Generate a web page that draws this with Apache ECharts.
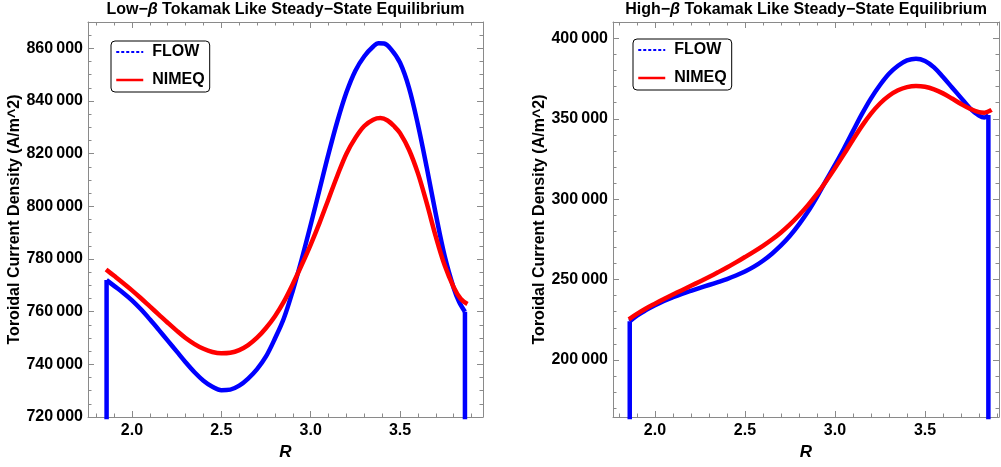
<!DOCTYPE html>
<html>
<head>
<meta charset="utf-8">
<script src="https://cdn.jsdelivr.net/npm/echarts@6/dist/echarts.min.js"></script>
<style>html,body{margin:0;padding:0;background:#fff;}#c{width:1001px;height:467px;}</style>
</head>
<body>
<div id="c"></div>
<script>
// ---- Data ----
const titles = ['Low\u2212{b|\u03b2} Tokamak Like Steady\u2212State Equilibrium',
                'High\u2212{b|\u03b2} Tokamak Like Steady\u2212State Equilibrium'];
const seriesNames = ['FLOW', 'NIMEQ'];
const yAxisName = 'Toroidal Current Density (A/m^2)';
const xAxisName = 'R';
const edgeFloor = 0; // FLOW drops to zero outside the plasma boundary

// Low-beta panel
const lowFlowR = [1.858, 1.90, 1.95, 2.00, 2.05, 2.10, 2.15, 2.20, 2.25, 2.30, 2.35, 2.40, 2.45, 2.50, 2.55, 2.60, 2.65, 2.70, 2.75, 2.80, 2.85, 2.90, 2.95, 3.00, 3.05, 3.10, 3.15, 3.20, 3.25, 3.30, 3.35, 3.38, 3.41, 3.45, 3.50, 3.55, 3.60, 3.65, 3.70, 3.75, 3.80, 3.83, 3.863];
const lowFlowJ = [772000, 769800, 767200, 764300, 760900, 757100, 753100, 749000, 744900, 740800, 737000, 733800, 731500, 730200, 730400, 731900, 734600, 738200, 743000, 749800, 757500, 768000, 780000, 793000, 806500, 820000, 832500, 843300, 851500, 857000, 860700, 861900, 861800, 859600, 854500, 845000, 831000, 814500, 797000, 781000, 769000, 763800, 760000];
const lowNimR = [1.855, 1.90, 1.95, 2.00, 2.05, 2.10, 2.15, 2.20, 2.25, 2.30, 2.35, 2.40, 2.45, 2.50, 2.55, 2.60, 2.65, 2.70, 2.75, 2.80, 2.85, 2.90, 2.95, 3.00, 3.05, 3.10, 3.15, 3.20, 3.25, 3.30, 3.35, 3.39, 3.43, 3.47, 3.50, 3.55, 3.60, 3.65, 3.70, 3.75, 3.80, 3.84, 3.877];
const lowNimJ = [776000, 773600, 770900, 768100, 765100, 762000, 758900, 755800, 752800, 750000, 747700, 745900, 744700, 744200, 744400, 745400, 747300, 750100, 753800, 758300, 763800, 770500, 777800, 785500, 793800, 802800, 811800, 820000, 826000, 830500, 832900, 833500, 832600, 830200, 827800, 821500, 812500, 801000, 788500, 777500, 769300, 764800, 762900];

// High-beta panel
const highFlowR = [1.86, 1.90, 1.95, 2.00, 2.05, 2.10, 2.15, 2.20, 2.25, 2.30, 2.35, 2.40, 2.45, 2.50, 2.55, 2.60, 2.65, 2.70, 2.75, 2.80, 2.85, 2.90, 2.95, 3.00, 3.05, 3.10, 3.15, 3.20, 3.25, 3.30, 3.35, 3.40, 3.45, 3.50, 3.55, 3.60, 3.65, 3.70, 3.75, 3.80, 3.83, 3.852];
const highFlowJ = [224000, 227600, 231000, 234000, 236700, 239000, 241100, 243000, 244800, 246600, 248400, 250300, 252500, 255000, 258000, 261700, 266100, 271200, 277200, 284300, 292300, 301500, 311500, 321300, 331500, 342300, 353000, 362700, 371000, 378000, 383000, 386300, 387400, 386000, 382000, 376000, 369500, 363000, 356500, 352000, 350800, 352400];
const highNimR = [1.855, 1.90, 1.95, 2.00, 2.05, 2.10, 2.15, 2.20, 2.25, 2.30, 2.35, 2.40, 2.45, 2.50, 2.55, 2.60, 2.65, 2.70, 2.75, 2.80, 2.85, 2.90, 2.95, 3.00, 3.05, 3.10, 3.15, 3.20, 3.25, 3.30, 3.35, 3.40, 3.45, 3.50, 3.55, 3.60, 3.65, 3.70, 3.75, 3.80, 3.83, 3.87];
const highNimJ = [225300, 228600, 232000, 235000, 237900, 240700, 243400, 246100, 248800, 251600, 254500, 257500, 260700, 264000, 267400, 271000, 274900, 279300, 284300, 290000, 296300, 303300, 311000, 319300, 328000, 337000, 345600, 353200, 359500, 364300, 367700, 369700, 370400, 369900, 368300, 365800, 362600, 359200, 356200, 354100, 353800, 355500];

// Tick labels / tick positions
const xMajorTicks = [2.0, 2.5, 3.0, 3.5];
const xMinorTicks = [1.8, 1.9, 2.1, 2.2, 2.3, 2.4, 2.6, 2.7, 2.8, 2.9, 3.1, 3.2, 3.3, 3.4, 3.6, 3.7, 3.8, 3.9];
const lowYMajorTicks = [720000, 740000, 760000, 780000, 800000, 820000, 840000, 860000];
const highYMajorTicks = [200000, 250000, 300000, 350000, 400000];
const lowYMinorTicks = [];
for (let v = 725000; v < 870000; v += 5000) if (v % 20000 !== 0) lowYMinorTicks.push(v);
const highYMinorTicks = [];
for (let v = 170000; v <= 410000; v += 10000) if (v % 50000 !== 0) highYMinorTicks.push(v);

// ---- Layout / styling ----
const FONT = '"Liberation Sans", Arial, sans-serif';
const FRAME = '#8a8a8a';
const BLUE = '#0000ff', RED = '#ff0000';
const panels = [
  { grid: { left: 88, top: 22, width: 395, height: 395 }, xMin: 1.754, xMax: 3.964, yMin: 720000, yMax: 870000,
    yMajor: lowYMajorTicks, yMinor: lowYMinorTicks, flow: [lowFlowR, lowFlowJ], nim: [lowNimR, lowNimJ],
    legend: { left: 111, top: 41 }, titleX: 285.5 },
  { grid: { left: 613, top: 22, width: 386, height: 395 }, xMin: 1.767, xMax: 3.911, yMin: 164500, yMax: 410200,
    yMajor: highYMajorTicks, yMinor: highYMinorTicks, flow: [highFlowR, highFlowJ], nim: [highNimR, highNimJ],
    legend: { left: 633, top: 39 }, titleX: 806 }
];

function fmtNum(v) {
  const s = String(Math.round(v));
  return s.slice(0, -3) + '\u2009' + s.slice(-3);
}
function pairs(xs, ys) { return xs.map((x, i) => [x, ys[i]]); }

const option = { animation: false, title: [], grid: [], xAxis: [], yAxis: [], legend: [], series: [] };

panels.forEach((p, g) => {
  option.grid.push(Object.assign({ containLabel: false }, p.grid));
  option.title.push({
    text: titles[g], left: p.titleX, top: 2, textAlign: 'center', padding: 0,
    textStyle: { fontFamily: FONT, fontSize: 16, fontWeight: 'bold', color: '#000',
      rich: { b: { fontFamily: FONT, fontSize: 16, fontWeight: 'bold', fontStyle: 'italic', color: '#000' } } }
  });
  const base = { type: 'value', gridIndex: g, splitLine: { show: false } };
  const line = { show: true, lineStyle: { color: FRAME, width: 1 } };
  option.xAxis.push(Object.assign({}, base, {
    position: 'bottom', min: p.xMin, max: p.xMax, axisLine: line,
    axisTick: { show: true, inside: true, length: 6, customValues: xMajorTicks, lineStyle: { color: FRAME } },
    axisLabel: { show: true, customValues: xMajorTicks, margin: 6, formatter: v => Number(v).toFixed(1),
      fontFamily: FONT, fontSize: 16, fontWeight: 'bold', color: '#000' },
    name: xAxisName, nameLocation: 'middle', nameGap: 27,
    nameTextStyle: { fontFamily: FONT, fontSize: 17, fontWeight: 'bold', fontStyle: 'italic', color: '#000' }
  }));
  option.xAxis.push(Object.assign({}, base, {
    position: 'bottom', min: p.xMin, max: p.xMax, axisLine: { show: false },
    axisTick: { show: true, inside: true, length: 3.5, customValues: xMinorTicks, lineStyle: { color: FRAME } },
    axisLabel: { show: false }
  }));
  option.xAxis.push(Object.assign({}, base, {
    position: 'top', min: p.xMin, max: p.xMax, axisLine: line,
    axisTick: { show: true, inside: true, length: 6, customValues: xMajorTicks, lineStyle: { color: FRAME } },
    axisLabel: { show: false }
  }));
  option.xAxis.push(Object.assign({}, base, {
    position: 'top', min: p.xMin, max: p.xMax, axisLine: { show: false },
    axisTick: { show: true, inside: true, length: 3.5, customValues: xMinorTicks, lineStyle: { color: FRAME } },
    axisLabel: { show: false }
  }));
  option.yAxis.push(Object.assign({}, base, {
    position: 'left', min: p.yMin, max: p.yMax, axisLine: line,
    axisTick: { show: true, inside: true, length: 6, customValues: p.yMajor, lineStyle: { color: FRAME } },
    axisLabel: { show: true, customValues: p.yMajor, margin: 5, formatter: fmtNum,
      fontFamily: FONT, fontSize: 16, fontWeight: 'bold', color: '#000' },
    name: yAxisName, nameLocation: 'middle', nameGap: 63, nameRotate: 90,
    nameTextStyle: { fontFamily: FONT, fontSize: 16, fontWeight: 'bold', color: '#000' }
  }));
  option.yAxis.push(Object.assign({}, base, {
    position: 'left', min: p.yMin, max: p.yMax, axisLine: { show: false },
    axisTick: { show: true, inside: true, length: 3.5, customValues: p.yMinor, lineStyle: { color: FRAME } },
    axisLabel: { show: false }
  }));
  option.yAxis.push(Object.assign({}, base, {
    position: 'right', min: p.yMin, max: p.yMax, axisLine: line,
    axisTick: { show: true, inside: true, length: 6, customValues: p.yMajor, lineStyle: { color: FRAME } },
    axisLabel: { show: false }
  }));
  option.yAxis.push(Object.assign({}, base, {
    position: 'right', min: p.yMin, max: p.yMax, axisLine: { show: false },
    axisTick: { show: true, inside: true, length: 3.5, customValues: p.yMinor, lineStyle: { color: FRAME } },
    axisLabel: { show: false }
  }));

  option.legend.push({
    left: p.legend.left, top: p.legend.top, orient: 'vertical', selectedMode: false,
    backgroundColor: '#fff', borderColor: '#000', borderWidth: 1, borderRadius: 4,
    padding: [3, 5, 4, 4], itemWidth: 27, itemHeight: 16, itemGap: 12,
    textStyle: { fontFamily: FONT, fontSize: 16, fontWeight: 'bold', color: '#000', lineHeight: 16, padding: [0, 0, 0, 4] },
    itemStyle: { opacity: 0 },
    data: [
      { name: seriesNames[0], itemStyle: { opacity: 0 }, lineStyle: { color: BLUE, width: 2, type: [3, 2], opacity: 1 } },
      { name: seriesNames[1], itemStyle: { opacity: 0 }, lineStyle: { color: RED, width: 2.5, type: 'solid', opacity: 1 } }
    ]
  });

  const ai = g * 4;
  const fr = p.flow[0], fj = p.flow[1];
  const common = { type: 'line', xAxisIndex: ai, yAxisIndex: ai, symbol: 'none', clip: true };
  // FLOW: vertical drop at the inner boundary, the profile, and the drop at the outer boundary
  option.series.push(Object.assign({}, common, {
    name: seriesNames[0], data: [[fr[0], edgeFloor], [fr[0], fj[0]]],
    lineStyle: { color: BLUE, width: 4.5, cap: 'butt' }, itemStyle: { color: BLUE }
  }));
  option.series.push(Object.assign({}, common, {
    name: seriesNames[0], data: pairs(fr, fj), smooth: 0.35,
    lineStyle: { color: BLUE, width: 4.5, cap: 'butt', join: 'round' }, itemStyle: { color: BLUE }
  }));
  option.series.push(Object.assign({}, common, {
    name: seriesNames[0], data: [[fr[fr.length - 1], fj[fj.length - 1]], [fr[fr.length - 1], edgeFloor]],
    lineStyle: { color: BLUE, width: 4.5, cap: 'butt' }, itemStyle: { color: BLUE }
  }));
  option.series.push(Object.assign({}, common, {
    name: seriesNames[1], data: pairs(p.nim[0], p.nim[1]), smooth: 0.35,
    lineStyle: { color: RED, width: 4.5, cap: 'butt', join: 'round' }, itemStyle: { color: RED }
  }));
});

const chart = echarts.init(document.getElementById('c'), null, { renderer: 'canvas' });
chart.setOption(option);
</script>
</body>
</html>
